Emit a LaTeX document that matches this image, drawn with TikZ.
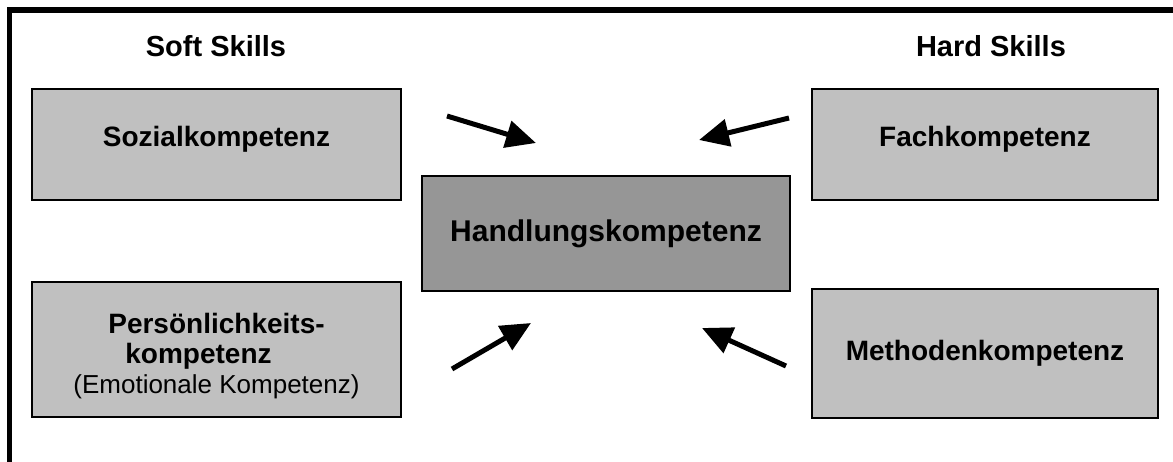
\documentclass[tikz,border=0pt]{standalone}
\usepackage{fontspec}
\setmainfont{Liberation Sans}
\usetikzlibrary{arrows.meta}

\definecolor{lightbox}{HTML}{C0C0C0}
\definecolor{darkbox}{HTML}{969696}

\begin{document}
\begin{tikzpicture}[x=0.5pt, y=-0.5pt,
  box/.style={draw, line width=0.75pt, fill=lightbox, inner sep=0pt, align=center,
    minimum width=184.5pt, minimum height=55.5pt, font=\bfseries\fontsize{14}{15}\selectfont},
  head/.style={font=\bfseries\fontsize{14.5}{17}\selectfont},
  push/.style={-{Triangle[length=15pt, width=13.5pt]}, line width=2.5pt}]
  \useasboundingbox (0,0) rectangle (1173,461);
  \clip (0,0) rectangle (1173,461);
  % frame, runs off on the right and at the bottom
  \draw[line width=2.75pt] (9.5,10) rectangle (1200,490);

  \node[head] (soft) at (216,46) {Soft Skills};
  \node[head] (hard) at (991,46) {Hard Skills};

  % extra depth lifts the text a little above the middle
  \node[box] (soz) at (216.5,144.5)
    {\raisebox{0pt}[\height][\dimexpr\depth+5pt\relax]{Sozialkompetenz}};
  \node[box, minimum height=67.5pt] (pers) at (216.5,349.5)
    {\raisebox{0pt}[\dimexpr\height+8pt\relax]{\begin{tabular}{@{}c@{}}
       Persönlichkeits-\\kompetenz\hspace*{18pt}\\
       {\mdseries\fontsize{13}{15}\selectfont(Emotionale Kompetenz)}
     \end{tabular}}};
  \node[box, fill=darkbox, minimum width=184pt, minimum height=57.5pt,
    font=\bfseries\fontsize{15}{18}\selectfont] (hand) at (606,233.5) {Handlungskompetenz};
  \node[box, minimum width=173pt] (fach) at (985,144.5)
    {\raisebox{0pt}[\height][\dimexpr\depth+5pt\relax]{Fachkompetenz}};
  \node[box, minimum width=173pt, minimum height=64.5pt] (meth) at (985,353.5) {Methodenkompetenz};

  % arrows pointing in at the middle box
  \coordinate (soz1) at (447,116);  \coordinate (soz2) at (536,143);
  \coordinate (fach1) at (789,118); \coordinate (fach2) at (699,140);
  \coordinate (pers1) at (452,369); \coordinate (pers2) at (531,323);
  \coordinate (meth1) at (786,366); \coordinate (meth2) at (702,328);
  \draw[push] (soz1) -- (soz2);
  \draw[push] (fach1) -- (fach2);
  \draw[push] (pers1) -- (pers2);
  \draw[push] (meth1) -- (meth2);
\end{tikzpicture}
\end{document}
